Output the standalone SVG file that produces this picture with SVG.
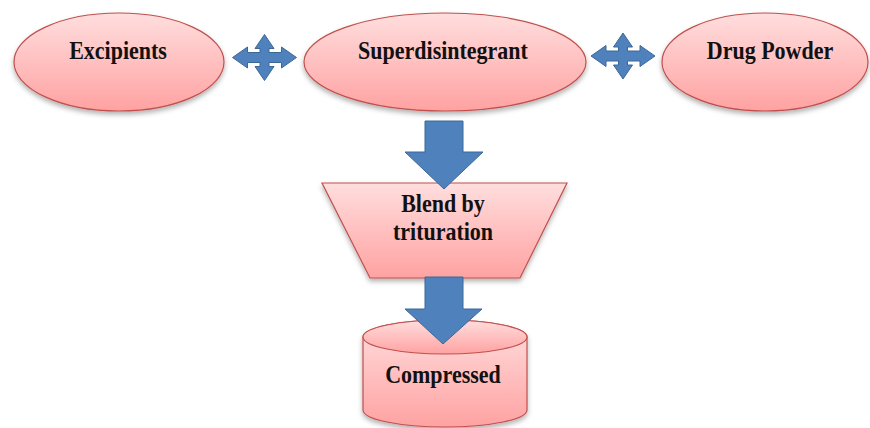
<svg xmlns="http://www.w3.org/2000/svg" width="870" height="428" viewBox="0 0 870 428">
<defs>
<linearGradient id="pink" x1="0" y1="0" x2="0" y2="1">
<stop offset="0" stop-color="#ffdede"/>
<stop offset="1" stop-color="#ffa2a2"/>
</linearGradient>
<filter id="sh" x="-10%" y="-10%" width="120%" height="130%">
<feDropShadow dx="0" dy="3" stdDeviation="2.5" flood-color="#000" flood-opacity="0.3"/>
</filter>
<path id="cross" d="M -32 0 L -17 -10.5 L -17 -5 L -4.5 -5 L -4.5 -9 L -9.5 -9 L 0 -23 L 9.5 -9 L 4.5 -9 L 4.5 -5 L 17 -5 L 17 -10.5 L 32 0 L 17 10.5 L 17 5 L 4.5 5 L 4.5 9 L 9.5 9 L 0 23 L -9.5 9 L -4.5 9 L -4.5 5 L -17 5 L -17 10.5 Z"/>
</defs>
<style>
.shape{fill:url(#pink);stroke:#c0504d;stroke-width:1.2;filter:url(#sh)}
.arrow{fill:#4f81bd;stroke:#3d6896;stroke-width:1}
.lbl{font-family:"Liberation Serif","Times New Roman",serif;font-weight:bold;font-size:22px;fill:#111;text-anchor:middle}
</style>
<g id="connectors">
<use href="#cross" class="arrow" transform="translate(264.5,57.5)"/>
<use href="#cross" class="arrow" transform="translate(623,56)"/>
</g>
<g id="excipients">
<ellipse class="shape" cx="119" cy="62" rx="105" ry="49"/>
<text class="lbl" transform="translate(118,59) scale(1,1.15)">Excipients</text>
</g>
<g id="superdisintegrant">
<ellipse class="shape" cx="445" cy="62" rx="141" ry="49"/>
<text class="lbl" transform="translate(443,59) scale(1,1.15)">Superdisintegrant</text>
</g>
<g id="drug-powder">
<ellipse class="shape" cx="765" cy="62" rx="103" ry="49"/>
<text class="lbl" transform="translate(770,59) scale(1,1.15)">Drug Powder</text>
</g>
<g id="blend">
<path class="shape" d="M 322 183 L 567 183 L 520 278 L 370 278 Z"/>
<text class="lbl" transform="translate(443,212) scale(1,1.15)">Blend by</text>
<text class="lbl" transform="translate(443,240) scale(1,1.15)">trituration</text>
</g>
<g id="compressed">
<path class="shape" d="M 363 337 A 82 17 0 0 1 527 337 L 527 410 A 82 17 0 0 1 363 410 Z"/>
<ellipse cx="445" cy="337" rx="82" ry="17" fill="url(#pink)" stroke="#c0504d" stroke-width="1.2"/>
<text class="lbl" transform="translate(443,383) scale(1,1.15)">Compressed</text>
</g>
<g id="down-arrows">
<path class="arrow" d="M 425 121 L 463 121 L 463 152 L 483 152 L 444 189 L 405 152 L 425 152 Z"/>
<path class="arrow" d="M 425 277 L 463 277 L 463 309 L 482 309 L 443 344 L 405 309 L 425 309 Z"/>
</g>
</svg>
